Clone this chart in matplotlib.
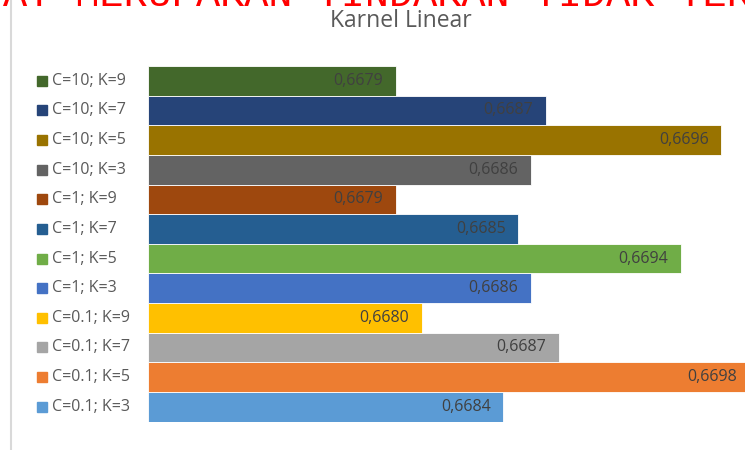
import numpy as np
import matplotlib.pyplot as plt
from matplotlib.lines import Line2D
import matplotlib.transforms as mtransforms

#Data (bottom to top, as drawn)
labels = ["C=0.1; K=3", "C=0.1; K=5", "C=0.1; K=7", "C=0.1; K=9",
          "C=1; K=3", "C=1; K=5", "C=1; K=7", "C=1; K=9",
          "C=10; K=3", "C=10; K=5", "C=10; K=7", "C=10; K=9"]
values = [0.66844, 0.66977, 0.66874, 0.66800,
          0.66859, 0.66940, 0.66852, 0.66786,
          0.66859, 0.66962, 0.66867, 0.66786]
colors = ["#5B9BD5", "#ED7D31", "#A5A5A5", "#FFC000",
          "#4472C4", "#70AD47", "#255E91", "#9E480E",
          "#636363", "#997300", "#264478", "#43682B"]

W, H = 745, 450
fig = plt.figure(figsize=(W / 100, H / 100), dpi=100)

#axes placed in pixels, chart runs past the right edge (cropped screenshot)
x0, y_top, y_bot = 148, 66, 421.5
xmin, xmax = 0.66652, 0.6700
px_per_unit = 185000
ax = fig.add_axes([x0 / W, 1 - y_bot / H, (xmax - xmin) * px_per_unit / W, (y_bot - y_top) / H])

y = np.arange(len(values))
ax.barh(y, [v - xmin for v in values], left=xmin, height=1.0, color=colors,
        edgecolor="white", linewidth=0.6)
ax.set_xlim(xmin, xmax)
ax.set_ylim(-0.5, len(values) - 0.5)
ax.axis("off")

#data labels inside bar ends
for yi, v in zip(y, values):
    ax.text(v - 12.5 / px_per_unit, yi, f"{v:.4f}".replace(".", ","), ha="right", va="center",
            fontsize=11.5, family="Open Sans", color="#404040")

#legend on the left, one row per bar
trans = mtransforms.blended_transform_factory(fig.transFigure, ax.transData)
for yi, lab, c in zip(y, labels, colors):
    ax.plot([42 / W], [yi], marker="s", markersize=7.2, color=c, transform=trans, clip_on=False)
    ax.text(52 / W, yi, lab, transform=trans, ha="left", va="center",
            fontsize=11.5, family="Open Sans", color="#595959")

#title
fig.text(401 / W, 1 - 27 / H, "Karnel Linear", ha="center", va="baseline",
         fontsize=16.5, family="Open Sans", color="#595959")

#left border of chart area
fig.add_artist(Line2D([11 / W, 11 / W], [0, 1], transform=fig.transFigure, color="#d9d9d9", linewidth=1.5))

#red text of the document behind, cut off at the top
fig.text(3 / W, 1 - 6 / H, "AT MERUPAKAN TINDAKAN TIDAK TER", ha="left", va="baseline",
         fontsize=29, family="Liberation Mono", color="#FF0000")

fig.savefig("out.png", dpi=100)
